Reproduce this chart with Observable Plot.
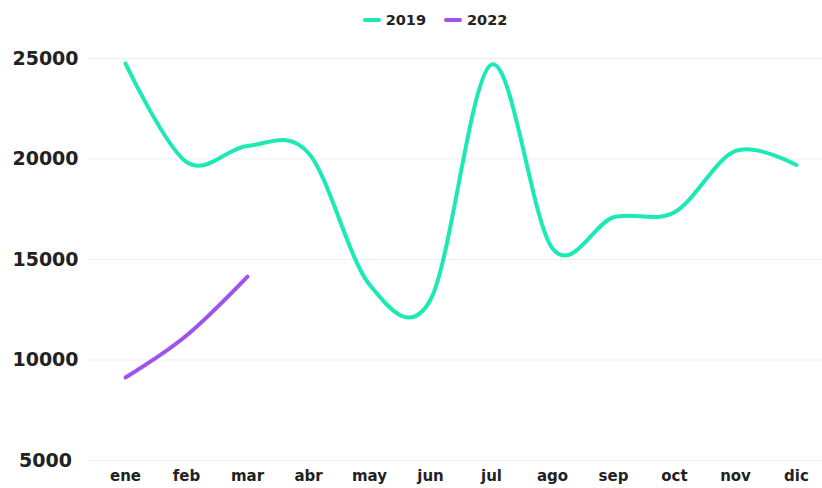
<!DOCTYPE html>
<html>
<head>
<meta charset="utf-8">
<script src="https://cdn.jsdelivr.net/npm/d3@7"></script>
<script src="https://cdn.jsdelivr.net/npm/@observablehq/plot@0.6"></script>
<style>
  html, body { margin: 0; padding: 0; background: #fff; }
  body { width: 822px; height: 488px; overflow: hidden; font-family: "DejaVu Sans", sans-serif; }
  #legend { height: 40px; display: flex; justify-content: center; align-items: center; padding-left: 48px; box-sizing: border-box; font-weight: bold; font-size: 14.5px; color: #222; }
  .item { display: flex; align-items: center; margin: 0 9px; }
  .sw { width: 18px; height: 4px; border-radius: 2px; margin-right: 5px; }
</style>
</head>
<body>
<div id="legend"></div>
<div id="chart"></div>
<script>
const months = ["ene", "feb", "mar", "abr", "may", "jun", "jul", "ago", "sep", "oct", "nov", "dic"];
const values2019 = [24750, 19850, 20650, 20300, 13750, 13000, 24700, 15550, 17100, 17350, 20400, 19700];
const values2022 = [9130, 11220, 14150];
const seriesNames = ["2019", "2022"];
const seriesColors = ["#1de9b6", "#a052ee"];
const yTicks = [5000, 10000, 15000, 20000, 25000];

const data2019 = values2019.map((v, i) => ({month: months[i], value: v}));
const data2022 = values2022.map((v, i) => ({month: months[i], value: v}));

const legend = document.getElementById("legend");
seriesNames.forEach((n, i) => {
  const it = document.createElement("div");
  it.className = "item";
  const sw = document.createElement("span");
  sw.className = "sw";
  sw.style.background = seriesColors[i];
  const t = document.createElement("span");
  t.textContent = n;
  it.appendChild(sw); it.appendChild(t);
  legend.appendChild(it);
});

const chart = Plot.plot({
  width: 822,
  height: 448,
  marginLeft: 88,
  marginRight: 0,
  marginTop: 18,
  marginBottom: 28,
  style: {fontFamily: "DejaVu Sans, sans-serif", color: "#222", background: "#fff"},
  x: {type: "point", domain: months, range: [120, 801], padding: 0, label: null},
  y: {domain: [5000, 25000], label: null},
  marks: [
    Plot.ruleY(yTicks, {stroke: "#efefef", strokeWidth: 1}),
    Plot.axisY({ticks: yTicks, tickSize: 0, tickPadding: 43, textAnchor: "middle", fontSize: 19, fontWeight: "bold", tickFormat: d3.format("d"), label: null}),
    Plot.axisX({tickSize: 0, tickPadding: 10, fontSize: 15, fontWeight: "bold", label: null}),
    Plot.line(data2019, {x: "month", y: "value", stroke: seriesColors[0], strokeWidth: 4, curve: "cardinal"}),
    Plot.line(data2022, {x: "month", y: "value", stroke: seriesColors[1], strokeWidth: 4, curve: "cardinal"})
  ]
});
document.getElementById("chart").appendChild(chart);
</script>
</body>
</html>
